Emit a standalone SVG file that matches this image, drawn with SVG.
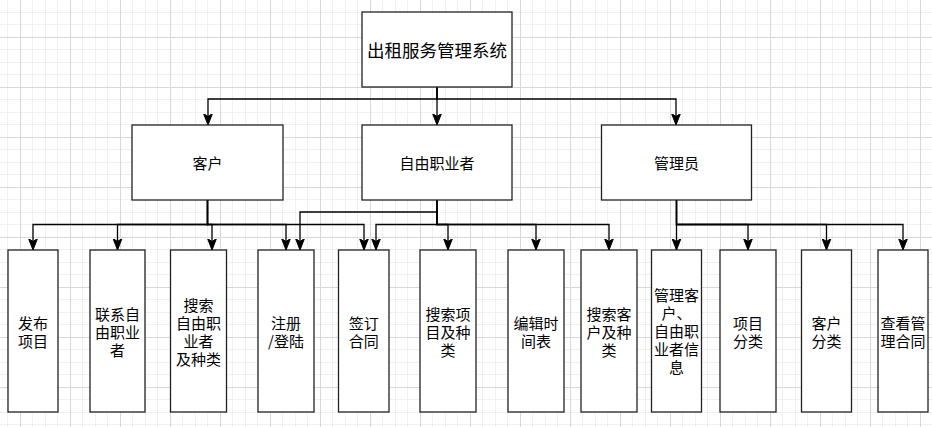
<svg xmlns="http://www.w3.org/2000/svg" width="932" height="427" viewBox="0 0 932 427">
<defs>
<pattern id="grid" patternUnits="userSpaceOnUse" x="20" y="37" width="50" height="50">
<rect x="12" y="0" width="1" height="50" fill="#f0f0f0"/>
<rect x="25" y="0" width="1" height="50" fill="#f0f0f0"/>
<rect x="37" y="0" width="1" height="50" fill="#f0f0f0"/>
<rect x="0" y="12" width="50" height="1" fill="#f0f0f0"/>
<rect x="0" y="25" width="50" height="1" fill="#f0f0f0"/>
<rect x="0" y="37" width="50" height="1" fill="#f0f0f0"/>
<rect x="0" y="0" width="1" height="50" fill="#d8d8d8"/>
<rect x="0" y="0" width="50" height="1" fill="#d8d8d8"/>
</pattern>
<marker id="arr" viewBox="0 0 12 10" refX="11.5" refY="5" markerWidth="12" markerHeight="10" markerUnits="userSpaceOnUse" orient="auto">
<path d="M0,0.5 L11.5,5 L0,9.5 L3,5 Z" fill="#000" stroke="#000" stroke-width="1" stroke-linejoin="miter"/>
</marker>
<style>
.box{fill:#fff;stroke:#222;stroke-width:1.3}
.t{font-family:"Noto Sans CJK SC","Noto Sans",sans-serif;font-size:15px;fill:#000;text-anchor:middle;dominant-baseline:central}
.title{font-size:17.5px}
.c{fill:none;stroke:#000;stroke-width:1.3;marker-end:url(#arr)}
</style>
</defs>
<rect width="932" height="427" fill="#fff"/>
<rect width="932" height="427" fill="url(#grid)"/>

<g id="connectors">
<path class="c" d="M437,87 V125"/>
<path class="c" d="M437,87 V99 H208 V125"/>
<path class="c" d="M437,87 V99 H676 V125"/>

<path class="c" d="M207.5,200 V224.5 H33 V250"/>
<path class="c" d="M207.5,200 V224.5 H117.5 V250"/>
<path class="c" d="M207.5,200 V224.5 H212 V250"/>
<path class="c" d="M207.5,200 V224.5 H286 V250"/>
<path class="c" d="M207.5,200 V224.5 H364 V250"/>

<path class="c" d="M437,200 V212 H300 V250"/>
<path class="c" d="M437,200 V224.5 H376 V250"/>
<path class="c" d="M437,200 V224.5 H448 V250"/>
<path class="c" d="M437,200 V224.5 H536 V250"/>
<path class="c" d="M437,200 V224.5 H609 V250"/>

<path class="c" d="M676.5,200 V250"/>
<path class="c" d="M676.5,200 V224.5 H748 V250"/>
<path class="c" d="M676.5,200 V224.5 H826.5 V250"/>
<path class="c" d="M676.5,200 V224.5 H903 V250"/>
</g>

<g id="root"><rect class="box" x="362" y="12" width="150" height="75"/><text class="t title" x="437" y="49">出租服务管理系统</text></g>
<g id="kehu"><rect class="box" x="132" y="125" width="151" height="75"/><text class="t" x="207.5" y="162">客户</text></g>
<g id="ziyou"><rect class="box" x="362" y="125" width="150" height="75"/><text class="t" x="437" y="162">自由职业者</text></g>
<g id="guanli"><rect class="box" x="601.5" y="125" width="150" height="75"/><text class="t" x="676.5" y="162">管理员</text></g>

<g id="n1"><rect class="box" x="8" y="250" width="50" height="162"/><text class="t" x="33"><tspan x="33" y="322">发布</tspan><tspan x="33" y="340">项目</tspan></text></g>
<g id="n2"><rect class="box" x="90" y="250" width="55" height="162"/><text class="t"><tspan x="117.5" y="313">联系自</tspan><tspan x="117.5" y="331">由职业</tspan><tspan x="117.5" y="349">者</tspan></text></g>
<g id="n3"><rect class="box" x="170.5" y="250" width="56" height="162"/><text class="t"><tspan x="198.5" y="304">搜索</tspan><tspan x="198.5" y="322">自由职</tspan><tspan x="198.5" y="340">业者</tspan><tspan x="198.5" y="358">及种类</tspan></text></g>
<g id="n4"><rect class="box" x="258" y="250" width="56" height="162"/><text class="t"><tspan x="286" y="322">注册</tspan><tspan x="286" y="340">/登陆</tspan></text></g>
<g id="n5"><rect class="box" x="338.5" y="250" width="50.5" height="162"/><text class="t"><tspan x="363.7" y="322">签订</tspan><tspan x="363.7" y="340">合同</tspan></text></g>
<g id="n6"><rect class="box" x="420" y="250" width="56" height="162"/><text class="t"><tspan x="448" y="313">搜索项</tspan><tspan x="448" y="331">目及种</tspan><tspan x="448" y="349">类</tspan></text></g>
<g id="n7"><rect class="box" x="508" y="250" width="56" height="162"/><text class="t"><tspan x="536" y="322">编辑时</tspan><tspan x="536" y="340">间表</tspan></text></g>
<g id="n8"><rect class="box" x="581" y="250" width="56" height="162"/><text class="t"><tspan x="609" y="313">搜索客</tspan><tspan x="609" y="331">户及种</tspan><tspan x="609" y="349">类</tspan></text></g>
<g id="n9"><rect class="box" x="651.5" y="250" width="50" height="162"/><text class="t"><tspan x="676.5" y="294">管理客</tspan><tspan x="676.5" y="312">户、</tspan><tspan x="676.5" y="330">自由职</tspan><tspan x="676.5" y="348">业者信</tspan><tspan x="676.5" y="366">息</tspan></text></g>
<g id="n10"><rect class="box" x="720" y="250" width="56" height="162"/><text class="t"><tspan x="748" y="322">项目</tspan><tspan x="748" y="340">分类</tspan></text></g>
<g id="n11"><rect class="box" x="801.5" y="250" width="50" height="162"/><text class="t"><tspan x="826.5" y="322">客户</tspan><tspan x="826.5" y="340">分类</tspan></text></g>
<g id="n12"><rect class="box" x="878" y="250" width="50" height="162"/><text class="t"><tspan x="903" y="322">查看管</tspan><tspan x="903" y="340">理合同</tspan></text></g>
</svg>
